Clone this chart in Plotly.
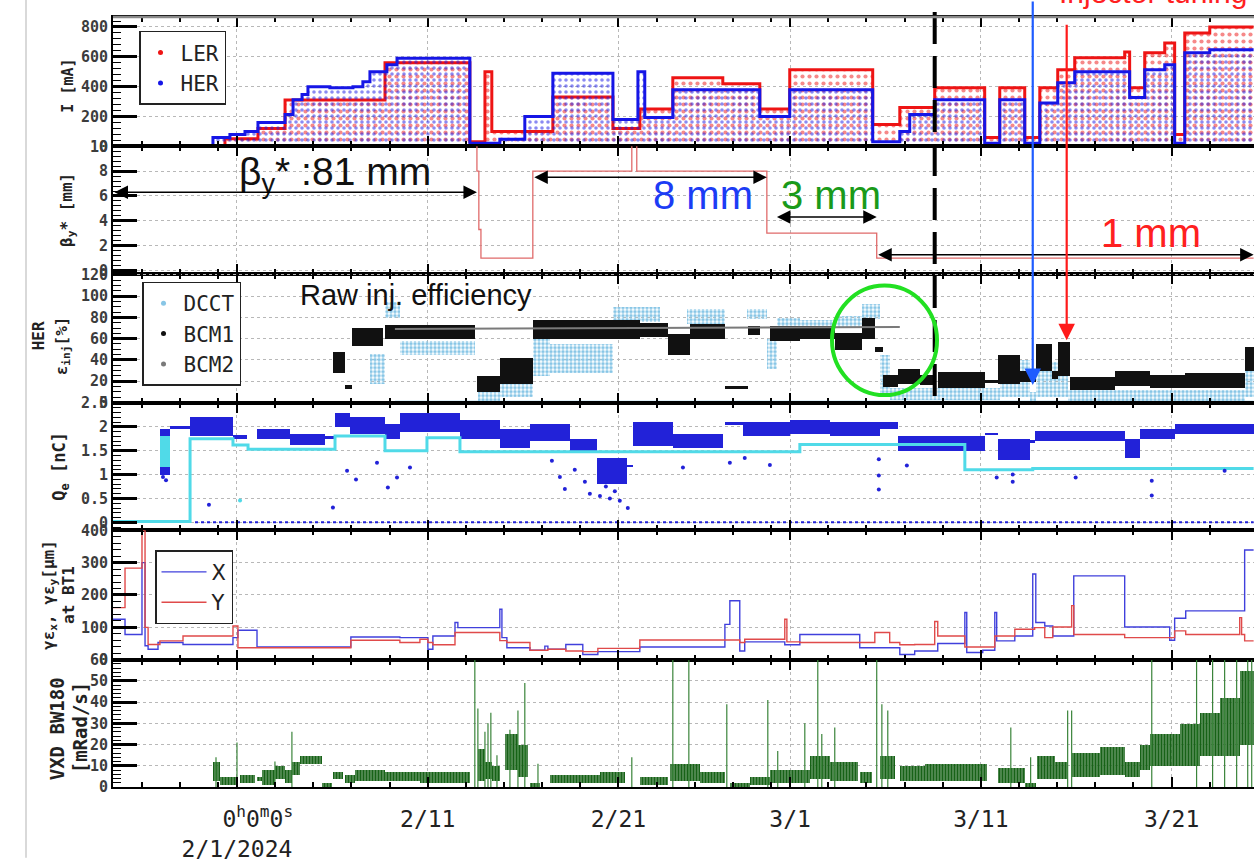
import numpy as np
import pandas as pd
import plotly.graph_objects as go
from plotly.subplots import make_subplots

# ------------------------------------------------------------------
# DATA  (time values are days since 2024-02-01 00:00)
# ------------------------------------------------------------------
BASE = pd.Timestamp("2024-02-01 00:00")
x_range_days = [-6.5, 53.32]

major_tick_dates = ["2024-02-01", "2024-02-11", "2024-02-21", "2024-03-01", "2024-03-11", "2024-03-21"]
major_tick_labels = ["\u00a0\u00a0\u00a00<sup>h</sup>0<sup>m</sup>0<sup>s</sup><br>2/1/2024",
                     "2/11", "2/21", "3/1", "3/11", "3/21"]
minor_tick_dates = ["2024-01-27", "2024-01-29", "2024-01-31", "2024-02-03", "2024-02-05", "2024-02-07",
                    "2024-02-09", "2024-02-13", "2024-02-15", "2024-02-17", "2024-02-19", "2024-02-23",
                    "2024-02-25", "2024-02-27", "2024-02-29", "2024-03-03", "2024-03-05", "2024-03-07",
                    "2024-03-09", "2024-03-13", "2024-03-15", "2024-03-17", "2024-03-19", "2024-03-23"]

# Beam current top envelope (step: value holds until next time)
ler_t = [-6.5, -0.63, 1.10, 2.52, 7.76, 12.21, 13.0, 13.36, 16.56, 19.71, 21.12, 22.85, 25.47, 27.41,
         28.98, 33.33, 34.75, 36.58, 39.2, 39.99, 41.3, 42.09, 43.03, 43.92, 46.54, 46.8, 47.59, 48.64,
         49.16, 49.69, 51.0, 53.3]
ler_i = [0, 50, 120, 310, 560, 30, 500, 100, 330, 120, 250, 460, 420, 250, 513, 147, 260, 393, 60, 393,
         60, 393, 513, 593, 633, 393, 627, 693, 80, 760, 800, 800]
her_t = [-6.5, -1.26, -0.37, 0.42, 1.10, 2.52, 2.94, 3.41, 3.72, 4.87, 6.08, 6.60, 6.97, 7.86, 8.39,
         12.21, 13.78, 15.09, 16.56, 19.71, 21.02, 21.38, 22.85, 27.41, 28.98, 33.33, 34.75, 35.27, 36.58,
         39.2, 39.99, 41.3, 42.09, 43.03, 43.92, 46.8, 47.59, 48.64, 49.16, 49.69, 51.0, 53.3]
her_i = [0, 60, 80, 100, 160, 213, 313, 347, 400, 393, 400, 433, 500, 547, 590, 20, 47, 200, 490, 180,
         500, 193, 380, 200, 380, 30, 100, 213, 313, 20, 313, 20, 290, 427, 500, 327, 513, 547, 20, 627,
         647, 647]
her_zero_t = [-6.5, 53.3]
her_zero_i = [0, 0]

# beta_y* [mm] (step)
beta_t = [-6.5, 12.58, 12.68, 12.79, 15.51, 20.70, 20.96, 27.78, 33.54, 53.3]
beta_v = [81, 8, 3.3, 1, 8, 81, 8, 3, 1, 1]

# HER injection efficiency [%] : bands (start, end, low, high)
bcm1_t0 = [5.03, 5.66, 6.03, 7.76, 12.58, 13.78, 15.51, 21.12, 22.59, 23.74, 25.58, 26.78, 27.94, 29.51,
           31.34, 32.76, 33.44, 33.86, 34.64, 35.80, 36.74, 39.2, 39.88, 41.04, 41.88, 42.71, 43.03,
           43.66, 46.02, 47.85, 49.69, 52.83]
bcm1_t1 = [5.66, 6.03, 7.65, 12.47, 13.78, 15.51, 21.12, 22.59, 23.74, 25.58, 26.78, 27.41, 29.51, 31.34,
           32.76, 33.44, 33.86, 34.64, 35.80, 36.58, 39.2, 39.88, 41.04, 41.88, 42.71, 43.03, 43.66,
           46.02, 47.85, 49.69, 52.83, 53.3]
bcm1_lo = [28, 13, 53, 60, 10, 18, 60, 62, 45, 60, 13, 64, 58, 60, 50, 60, 48, 15, 18, 17, 14, 19, 18,
           20, 30, 22, 25, 12, 16, 14, 14, 30]
bcm1_hi = [48, 17, 70, 73, 25, 42, 78, 75, 65, 74, 16, 72, 72, 72, 66, 80, 52, 26, 32, 26, 29, 21, 45,
           30, 55, 30, 57, 24, 30, 26, 28, 52]

dcct_t0 = [6.97, 7.76, 8.54, 12.63, 13.78, 15.51, 16.40, 19.71, 23.58, 26.73, 27.78, 28.30, 29.51, 31.34,
           32.76, 33.70, 34.22, 39.99, 41.56, 41.88, 43.55, 52.83]
dcct_t1 = [7.76, 8.54, 12.47, 13.78, 15.51, 16.40, 19.71, 22.17, 25.58, 27.78, 28.30, 29.51, 31.34, 32.76,
           33.70, 34.22, 39.99, 41.56, 41.88, 43.55, 52.83, 53.3]
dcct_lo = [18, 80, 45, 0, 5, 25, 28, 76, 74, 79, 32, 72, 70, 70, 79, 5, 3, 5, 2, 5, 2, 5]
dcct_hi = [46, 95, 58, 12, 38, 60, 55, 90, 88, 88, 60, 80, 78, 82, 93, 45, 14, 40, 10, 38, 12, 30]
dcct_zero_t = [8.28, 53.3]
dcct_zero_v = [0.4, 0.4]

bcm2_t = [8.28, 34.75]
bcm2_v = [69, 71]

# HER bunch charge Q_e [nC]
q_t0 = [-4.04, -3.51, -2.46, -0.21, 1.05, 2.78, 4.61, 5.14, 5.92, 7.76, 8.54, 11.69, 13.78, 15.36, 17.45,
        18.87, 20.44, 20.75, 22.85, 25.58, 26.52, 28.98, 31.08, 33.70, 34.64, 39.2, 39.88, 41.56, 41.82,
        46.54, 47.33, 49.16]
q_t1 = [-3.51, -2.46, -0.21, 0.52, 2.78, 4.61, 5.14, 5.92, 7.76, 8.54, 11.69, 13.78, 15.36, 17.45, 18.87,
        20.44, 20.75, 22.85, 25.47, 26.52, 28.98, 31.08, 33.70, 34.64, 39.2, 39.88, 41.56, 41.82, 46.54,
        47.33, 49.16, 53.3]
q_lo = [1.0, 1.96, 1.8, 1.75, 1.75, 1.62, 1.75, 2.0, 1.85, 1.75, 1.9, 1.75, 1.55, 1.7, 1.45, 0.8, 1.15,
        1.6, 1.55, 2.03, 1.8, 1.85, 1.8, 1.95, 1.5, 1.83, 1.3, 1.68, 1.7, 1.35, 1.75, 1.85]
q_hi = [1.95, 2.02, 2.2, 1.82, 1.95, 1.85, 1.80, 2.3, 2.2, 2.05, 2.3, 2.15, 1.95, 2.05, 1.75, 1.35, 1.2,
        2.1, 1.85, 2.1, 2.1, 2.15, 2.1, 2.1, 1.8, 1.88, 1.75, 1.72, 1.92, 1.75, 1.95, 2.05]
q_out_t = [-3.88, -3.72, -1.47, 5.03, 5.77, 6.24, 7.34, 7.91, 8.39, 9.07, 16.51, 16.93, 17.19, 17.71,
           18.24, 18.50, 19.03, 19.34, 19.55, 19.81, 20.07, 20.49, 23.38, 25.84, 26.62, 27.94, 33.65,
           33.65, 33.65, 35.12, 39.83, 40.67, 40.67, 43.97, 47.96, 47.96, 51.78]
q_out_v = [0.95, 0.88, 0.37, 0.31, 1.08, 0.9, 1.25, 0.73, 0.94, 1.15, 1.29, 0.95, 0.7, 1.1, 0.85, 0.6,
           0.55, 0.75, 0.5, 0.65, 0.45, 0.3, 1.15, 1.25, 1.35, 1.2, 1.32, 0.98, 0.69, 1.19, 0.94, 1.0,
           0.85, 0.94, 0.87, 0.56, 1.08]
q_zero_t = [-2.2, 53.3]
q_zero_v = [0.0, 0.0]
qc_t = [-6.5, -2.46, -0.21, 0.58, 5.14, 7.76, 9.96, 11.69, 29.51, 38.16, 41.72, 53.3]
qc_v = [0.02, 1.75, 1.62, 1.53, 1.81, 1.5, 1.77, 1.48, 1.63, 1.1, 1.13, 1.13]
qc_band_t0, qc_band_t1, qc_band_lo, qc_band_hi = [-4.04], [-3.51], [1.15], [1.8]
qc_out_t, qc_out_v = [0.16], [0.46]

# Emittance at BT1 [um] (step)
ex_t = [-6.5, -5.87, -4.98, -4.82, -4.66, -4.14, -2.83, -0.21, 0.05, 1.05, 5.97, 8.54, 10.01, 10.27,
        11.43, 11.58, 13.78, 13.89, 14.15, 15.36, 16.14, 16.30, 17.24, 18.13, 18.92, 21.12, 25.58, 25.84,
        26.36, 26.62, 28.72, 29.51, 32.65, 34.75, 35.53, 36.74, 38.16, 38.26, 39.10, 39.73, 39.83, 40.78,
        41.72, 41.88, 42.35, 42.77, 43.87, 46.54, 48.90, 49.16, 49.74, 52.83, 53.3]
ex_v = [125, 78, 300, 43, 32, 53, 47, 68, 91, 39, 70, 68, 32, 73, 115, 99, 156, 68, 37, 29, 42, 32, 47,
        16, 25, 39, 109, 182, 27, 55, 46, 78, 37, 16, 27, 50, 146, 22, 29, 146, 58, 73, 265, 115, 104,
        73, 259, 101, 60, 128, 151, 339, 339]
ey_t = [-6.5, -5.87, -4.98, -4.82, -4.66, -4.04, -2.83, -0.21, 0.05, 5.97, 8.54, 9.59, 10.01, 10.27,
        11.43, 13.78, 14.15, 15.36, 16.30, 17.24, 18.13, 18.92, 21.12, 26.36, 26.62, 28.72, 28.83, 29.51,
        33.44, 34.22, 34.75, 35.53, 36.58, 36.74, 38.16, 39.73, 40.78, 41.82, 42.35, 42.77, 43.76, 43.87,
        46.54, 49.16, 49.74, 52.57, 52.67, 52.83, 53.3]
ey_v = [161, 283, 400, 100, 47, 58, 73, 104, 37, 60, 53, 63, 53, 46, 84, 59, 53, 29, 32, 27, 25, 35, 61,
        53, 63, 125, 55, 53, 84, 53, 46, 47, 118, 73, 39, 73, 94, 99, 68, 101, 167, 78, 68, 89, 78, 130,
        78, 58, 58]

# VXD BW180 dose rate [mRad/s] : bands and spikes
vxd_t0 = [-1.26, -0.89, 0.16, 1.05, 1.31, 1.99, 2.52, 2.88, 3.30, 4.45, 5.03, 5.66, 6.18, 7.76, 9.59,
          12.63, 13.0, 13.36, 14.05, 14.73, 15.36, 16.40, 19.03, 21.12, 22.69, 24.27, 25.84, 26.89, 27.94,
          30.03, 31.08, 32.65, 33.70, 34.75, 36.06, 39.88, 41.30, 41.93, 42.87, 43.76, 45.23, 46.54, 47.33,
          47.85, 49.42, 50.47, 51.52, 52.57]
vxd_t1 = [-0.89, 0.0, 0.94, 1.31, 1.99, 2.52, 2.88, 3.30, 4.45, 4.98, 5.56, 6.18, 7.76, 9.59, 12.21,
          13.0, 13.36, 13.78, 14.73, 15.25, 15.88, 19.03, 20.34, 22.59, 24.27, 25.58, 26.89, 27.94, 30.03,
          31.08, 32.55, 33.28, 34.49, 36.06, 39.31, 41.30, 41.88, 42.87, 43.55, 45.23, 46.54, 47.33, 47.85,
          49.42, 50.47, 51.52, 52.57, 53.3]
vxd_lo = [3, 1, 2, 3, 1, 4, 2, 6, 11, 0, 4, 2, 3, 3, 2, 3, 4, 3, 8, 5, 0, 2, 2, 1, 3, 2, 0, 1, 2, 4, 3,
          2, 4, 3, 3, 2, 0, 4, 4, 5, 6, 5, 8, 10, 10, 15, 15, 20]
vxd_hi = [12, 5, 6, 5, 8, 10, 8, 12, 15, 2, 7, 6, 8, 7, 7, 18, 12, 10, 25, 20, 2, 6, 7, 5, 11, 7, 2, 5,
          8, 15, 12, 7, 15, 10, 11, 9, 2, 15, 12, 16, 19, 12, 20, 25, 30, 35, 42, 55]
vxd_spk_t = [-1.10, 0.0, 1.99, 2.88, 12.47, 12.63, 13.0, 13.16, 13.31, 13.63, 14.31, 14.73, 15.09, 15.78,
             20.70, 22.85, 23.69, 25.68, 27.83, 28.35, 29.77, 30.45, 30.66, 31.34, 33.54, 33.81, 34.12,
             40.57, 41.61, 43.55, 43.76, 47.96, 50.31, 51.15, 51.78, 52.41, 52.99, 53.20]
vxd_spk_v = [14, 21, 12, 26, 60, 37, 26, 30, 35, 15, 27, 36, 49, 11, 14, 60, 60, 39, 41, 17, 30, 60, 25,
             28, 60, 39, 36, 28, 14, 36, 36, 60, 60, 60, 60, 60, 60, 60]

# event markers (days)
boundary_day = 36.58
her_tuning_day = 41.72
inj_tuning_day = 43.50

# ------------------------------------------------------------------
# STYLE / LAYOUT
# ------------------------------------------------------------------
W, H = 1254, 862
ML, MR, MT, MB = 113, 0, 17, 71
panel_edges_px = [17, 147, 275, 405, 533, 663, 791]
MONO = "DejaVu Sans Mono, monospace"
SANS = "Liberation Sans, Arial, sans-serif"

C_LER, C_HER = "#ee1414", "#1616e6"
C_DCCT, C_BCM1, C_BCM2 = "#88c6e6", "#111111", "#7a7a7a"
C_Q, C_QC = "#2222d8", "#50dae8"
C_X, C_Y = "#4040dc", "#e04a4a"
C_VXD, C_VXD_SPK = "#176217", "#3a843a"
C_BETA = "#e06a6a"


def fx(p):
    return (p - ML) / (W - ML - MR)


def fy(p):
    return (H - MB - p) / (H - MB - MT)


def dt(days):
    return BASE + pd.to_timedelta(np.asarray(days, dtype=float), unit="D")


def dts(d):
    return (BASE + pd.Timedelta(days=float(d))).strftime("%Y-%m-%d %H:%M:%S")


fig = make_subplots(rows=6, cols=1, shared_xaxes=True, vertical_spacing=0)


def band(row, t0, t1, lo, hi, color, pattern=None):
    t0, t1 = np.asarray(t0, float), np.asarray(t1, float)
    lo, hi = np.asarray(lo, float), np.asarray(hi, float)
    marker = dict(color=color, line=dict(width=0))
    if pattern is not None:
        marker["pattern"] = dict(fgcolor=color, bgcolor="rgba(0,0,0,0)", fillmode="replace", **pattern)
    fig.add_trace(go.Bar(x=dt((t0 + t1) / 2), y=hi - lo, base=lo, width=(t1 - t0) * 86400000.0,
                         marker=marker, showlegend=False, hoverinfo="skip"), row=row, col=1)


def spikes(row, t, v, color, width=1.0):
    xs, ys = [], []
    for ti, vi in zip(t, v):
        xs += [dts(ti), dts(ti), None]
        ys += [0, vi, None]
    fig.add_trace(go.Scatter(x=xs, y=ys, mode="lines", line=dict(color=color, width=width),
                             showlegend=False, hoverinfo="skip"), row=row, col=1)


def legend_dot(name, color, legend):
    fig.add_trace(go.Scatter(x=[None], y=[None], mode="markers", name=name, legend=legend,
                             marker=dict(color=color, size=5)), row=1, col=1)


# --- row 1 : beam currents
for t, v, c, sz in [(ler_t, ler_i, C_LER, 7), (her_t, her_i, C_HER, 6)]:
    fig.add_trace(go.Scatter(x=dt(t), y=v, mode="lines", line=dict(color=c, width=3, shape="hv"),
                             fill="tozeroy", fillcolor="rgba(0,0,0,0)",
                             fillpattern=dict(shape=".", fgcolor=c, bgcolor="rgba(0,0,0,0)",
                                              size=sz, solidity=0.28),
                             showlegend=False, hoverinfo="skip"), row=1, col=1)
fig.add_trace(go.Scatter(x=dt(her_zero_t), y=her_zero_i, mode="lines", line=dict(color=C_HER, width=3),
                         showlegend=False, hoverinfo="skip"), row=1, col=1)
legend_dot("LER", C_LER, "legend")
legend_dot("HER", C_HER, "legend")

# --- row 2 : beta*
fig.add_trace(go.Scatter(x=dt(beta_t), y=beta_v, mode="lines",
                         line=dict(color=C_BETA, width=1.3, shape="hv"),
                         showlegend=False, hoverinfo="skip"), row=2, col=1)

# --- row 3 : injection efficiency
band(3, dcct_t0, dcct_t1, dcct_lo, dcct_hi, C_DCCT, dict(shape=".", size=4, solidity=0.6))
fig.add_trace(go.Scatter(x=dt(dcct_zero_t), y=dcct_zero_v, mode="lines", line=dict(color=C_DCCT, width=2.5),
                         showlegend=False, hoverinfo="skip"), row=3, col=1)
band(3, bcm1_t0, bcm1_t1, bcm1_lo, bcm1_hi, C_BCM1)
fig.add_trace(go.Scatter(x=dt(bcm2_t), y=bcm2_v, mode="lines", line=dict(color=C_BCM2, width=2),
                         showlegend=False, hoverinfo="skip"), row=3, col=1)
legend_dot("DCCT", C_DCCT, "legend2")
legend_dot("BCM1", C_BCM1, "legend2")
legend_dot("BCM2", C_BCM2, "legend2")

# --- row 4 : bunch charge
band(4, q_t0, q_t1, q_lo, q_hi, C_Q)
band(4, qc_band_t0, qc_band_t1, qc_band_lo, qc_band_hi, C_QC)
fig.add_trace(go.Scatter(x=dt(q_zero_t), y=q_zero_v, mode="lines",
                         line=dict(color=C_Q, width=2, dash="dot"), showlegend=False, hoverinfo="skip"),
              row=4, col=1)
fig.add_trace(go.Scatter(x=dt(qc_t), y=qc_v, mode="lines", line=dict(color=C_QC, width=3, shape="hv"),
                         showlegend=False, hoverinfo="skip"), row=4, col=1)
fig.add_trace(go.Scatter(x=dt(q_out_t), y=q_out_v, mode="markers", marker=dict(color=C_Q, size=4),
                         showlegend=False, hoverinfo="skip"), row=4, col=1)
fig.add_trace(go.Scatter(x=dt(qc_out_t), y=qc_out_v, mode="markers", marker=dict(color=C_QC, size=4),
                         showlegend=False, hoverinfo="skip"), row=4, col=1)

# --- row 5 : emittance
fig.add_trace(go.Scatter(x=dt(ex_t), y=ex_v, mode="lines", name="X", legend="legend3",
                         line=dict(color=C_X, width=1.4, shape="hv"), hoverinfo="skip"), row=5, col=1)
fig.add_trace(go.Scatter(x=dt(ey_t), y=ey_v, mode="lines", name="Y", legend="legend3",
                         line=dict(color=C_Y, width=1.4, shape="hv"), hoverinfo="skip"), row=5, col=1)

# --- row 6 : VXD dose
band(6, vxd_t0, vxd_t1, vxd_lo, vxd_hi, C_VXD, dict(shape="|", size=3, solidity=0.85))
spikes(6, vxd_spk_t, vxd_spk_v, C_VXD_SPK, 1.2)

# ------------------------------------------------------------------
# AXES
# ------------------------------------------------------------------
grid = dict(showgrid=True, gridcolor="#b8b8b8", griddash="dot", gridwidth=1)
fig.update_xaxes(type="date", range=[dts(x_range_days[0]), dts(x_range_days[1])],
                 showline=True, linecolor="black", linewidth=2, mirror="allticks",
                 ticks="inside", ticklen=10, tickwidth=2, tickcolor="black",
                 tickmode="array", tickvals=major_tick_dates, ticktext=major_tick_labels,
                 tickfont=dict(family=MONO, size=23, color="#222"), ticklabelstandoff=10,
                 minor=dict(tickmode="array", tickvals=minor_tick_dates, ticks="inside", ticklen=5,
                            tickwidth=1.5, tickcolor="black", showgrid=False),
                 **grid)

ycfg = {
    1: dict(range=[0, 867], dtick=200, mdt=40),
    2: dict(range=[-0.26, 10], dtick=2, mdt=0.4),
    3: dict(range=[-0.5, 121.1], dtick=20, mdt=5),
    4: dict(range=[-0.167, 2.5], dtick=0.5, mdt=0.1),
    5: dict(range=[0, 400], dtick=100, mdt=20),
    6: dict(range=[0, 60], dtick=10, mdt=2),
}
for r, c in ycfg.items():
    fig.update_yaxes(range=c["range"], tick0=0, dtick=c["dtick"], row=r, col=1,
                     showline=True, linecolor="black", linewidth=2, zeroline=False,
                     ticks="inside", ticklen=24, tickwidth=2.5, tickcolor="black",
                     tickfont=dict(family=MONO, size=15, color="#3c3c3c", weight="bold"),
                     minor=dict(tick0=0, dtick=c["mdt"], ticks="inside", ticklen=8, tickwidth=1.3,
                                tickcolor="black", showgrid=False),
                     **grid)

for i in range(6):
    key = "yaxis" if i == 0 else f"yaxis{i + 1}"
    fig.layout[key].domain = [fy(panel_edges_px[i + 1]), fy(panel_edges_px[i])]

# ------------------------------------------------------------------
# ANNOTATIONS
# ------------------------------------------------------------------
ann = []


def txt(text, xp, yp, size, color, family=SANS, angle=0, xanchor="center", yanchor="middle",
        weight="normal"):
    ann.append(dict(text=text, x=fx(xp), y=fy(yp), xref="paper", yref="paper", showarrow=False,
                    font=dict(family=family, size=size, color=color, weight=weight),
                    textangle=angle, xanchor=xanchor, yanchor=yanchor))


# y-axis titles
txt("I [mA]", 68, 86, 15, "#222", MONO, -90, weight="bold")
txt("β<sub>y</sub>* [mm]", 68, 211, 16, "#222", MONO, -90, weight="bold")
txt("HER", 38, 338, 16, "#222", MONO, -90, weight="bold")
txt("ε<sub>inj</sub>[%]", 62, 348, 16, "#222", MONO, -90, weight="bold")
txt("Q<sub>e</sub> [nC]", 61, 469, 17, "#222", MONO, -90, weight="bold")
txt("γε<sub>x</sub>, γε<sub>y</sub>[μm]", 50, 598, 16, "#222", MONO, -90, weight="bold")
txt("at BT1", 69, 598, 16, "#222", MONO, -90, weight="bold")
txt("VXD BW180", 57, 733, 19, "#222", MONO, -90, weight="bold")
txt("[mRad/s]", 80, 731, 19, "#222", MONO, -90, weight="bold")

# big labels
txt("β<sub>y</sub>* :81 mm", 335, 175, 39, "#111")
txt("8 mm", 703, 196, 40, "#1c3cf5")
txt("3 mm", 831, 196, 40, "#1a9a1a")
txt("1 mm", 1151, 234, 40, "#ff2020")
txt("Raw inj. efficiency", 416, 296, 29, "#111")
txt("Injector tuning", 1057, 11, 30, "#ff2020", xanchor="left", yanchor="bottom")


def darrow(t0, t1, yv):
    ann.append(dict(x=dts(t1), y=yv, ax=dts(t0), ay=yv, xref="x2", yref="y2", axref="x2", ayref="y2",
                    text="", showarrow=True, arrowhead=2, arrowsize=1.8, arrowwidth=1.5,
                    arrowcolor="black", arrowside="end+start", startarrowhead=2, startarrowsize=1.8))


darrow(beta_t[0], beta_t[1], 6.3)
darrow(beta_t[4], beta_t[7], 7.5)
darrow(beta_t[7] + 0.45, beta_t[8], 4.3)
darrow(beta_t[8], beta_t[9], 1.26)

# vertical tuning arrows
ann.append(dict(x=dts(her_tuning_day), y=fy(387), xref="x", yref="paper", ax=0, ay=-387, text="",
                showarrow=True, arrowhead=2, arrowsize=1.5, arrowwidth=2.2, arrowcolor="#1e5cff"))
ann.append(dict(x=dts(inj_tuning_day), y=fy(342), xref="x", yref="paper", ax=0, ay=-317, text="",
                showarrow=True, arrowhead=2, arrowsize=1.5, arrowwidth=2.2, arrowcolor="#ff1a1a"))

shapes = [
    dict(type="line", xref="x", yref="paper", x0=dts(boundary_day), x1=dts(boundary_day),
         y0=fy(398), y1=fy(10), line=dict(color="black", width=4, dash="32px,12px")),
    dict(type="circle", xref="paper", yref="paper", x0=fx(832), x1=fx(937), y0=fy(397), y1=fy(287),
         line=dict(color="#22e022", width=4)),
    dict(type="line", xref="paper", yref="paper", x0=fx(26), x1=fx(26), y0=fy(862), y1=fy(0),
         line=dict(color="#cccccc", width=1.5)),
    dict(type="line", xref="paper", yref="paper", x0=0, x1=1, y0=1, y1=1,
         line=dict(color="#8a8a8a", width=2.5)),
]

leg_common = dict(bgcolor="white", bordercolor="#222", borderwidth=1.5, xanchor="left", yanchor="top",
                  itemsizing="trace", tracegroupgap=0)
fig.update_layout(
    width=W, height=H, autosize=False,
    margin=dict(l=ML, r=MR, t=MT, b=MB),
    plot_bgcolor="white", paper_bgcolor="white",
    barmode="overlay", bargap=0,
    showlegend=True,
    legend=dict(x=fx(139), y=fy(31), font=dict(family=MONO, size=21, color="#222"), **leg_common),
    legend2=dict(x=fx(142), y=fy(283), font=dict(family=MONO, size=21, color="#222"), **leg_common),
    legend3=dict(x=fx(155), y=fy(553), font=dict(family="DejaVu Sans", size=21, color="#222"),
                 itemwidth=45, **leg_common),
    annotations=ann,
    shapes=shapes,
)

fig.write_html("out.html")
